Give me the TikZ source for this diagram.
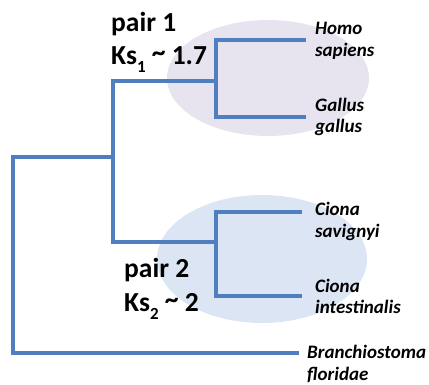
\documentclass[tikz,border=0pt]{standalone}
\usepackage{fontspec}
\setmainfont{Carlito}
\definecolor{branch}{HTML}{4F7FBF}
\definecolor{lav}{HTML}{E7E4EF}
\definecolor{pale}{HTML}{DCE5F3}
\newcommand{\mysub}[1]{\raisebox{-0.28em}{\fontsize{17}{17}\selectfont #1}}
\newcommand{\mytilde}{\raisebox{0.12em}{\textasciitilde}}
\tikzset{
  tree/.style={draw=branch, line width=3.5pt, line join=miter, line cap=rect},
  species/.style={anchor=base west, inner sep=0pt, font=\fontsize{19}{22}\selectfont\bfseries\itshape},
  pairlab/.style={anchor=base west, inner sep=0pt, font=\fontsize{27.5}{31}\selectfont\bfseries},
}
\begin{document}
\begin{tikzpicture}[x=1pt, y=-1pt]
\useasboundingbox (0,0) rectangle (429,385);
% shaded ellipses
\fill[lav] (268,78) ellipse [x radius=101, y radius=58];
\fill[pale] (262,259) ellipse [x radius=105, y radius=64];
% coordinates
\coordinate (hs) at (304,40);
\coordinate (gg) at (304,117);
\coordinate (cs) at (300,212);
\coordinate (ci) at (300,296);
\coordinate (bf) at (297,353);
\coordinate (j1) at (216,81);
\coordinate (j2) at (216,242);
\coordinate (j0) at (113,157);
\coordinate (r) at (13,250);
% tree
\draw[tree] (hs) -| (j1) |- (gg);
\draw[tree] (cs) -| (j2) |- (ci);
\draw[tree] (j1) -| (j0) |- (j2);
\draw[tree] (j0) -| (r) |- (bf);
% species labels
\node[species] (homoA) at (315,35) {Homo};
\node[species] (homoB) at (315,57) {sapiens};
\node[species] (galA) at (315,112) {Gallus};
\node[species] (galB) at (315,133) {gallus};
\node[species] (csA) at (315,216) {Ciona};
\node[species] (csB) at (315,238) {savignyi};
\node[species] (ciA) at (315,292) {Ciona};
\node[species] (ciB) at (315,313) {intestinalis};
\node[species] (bfA) at (307,358) {Branchiostoma};
\node[species] (bfB) at (307,380) {floridae};
% pair labels
\node[pairlab] (p1a) at (111,32) {pair 1};
\node[pairlab] (p1b) at (111,65) {Ks\mysub{1} \mytilde{} 1.7};
\node[pairlab] (p2a) at (124,277) {pair 2};
\node[pairlab] (p2b) at (124,312) {Ks\mysub{2} \mytilde{} 2};
\end{tikzpicture}
\end{document}
